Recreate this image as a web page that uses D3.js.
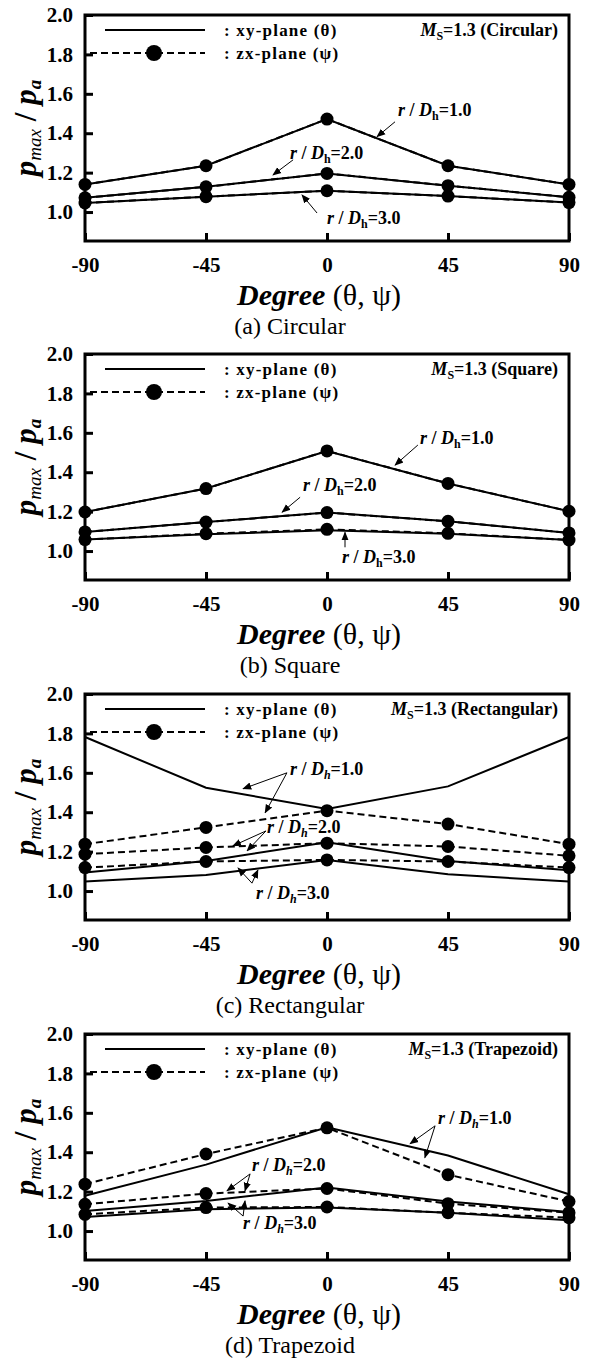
<!DOCTYPE html>
<html>
<head>
<meta charset="utf-8">
<script src="https://cdn.jsdelivr.net/npm/d3@7"></script>
<style>
  body { margin: 0; background: #fff; }
  text { font-family: "Liberation Serif", "Times New Roman", serif; fill: #000; }
</style>
</head>
<body>
<div id="chart"></div>
<script>
// x positions (degree) and axis ticks
const degrees = [-90, -45, 0, 45, 90];
const xTicks = [-90, -45, 0, 45, 90];
const yTicks = [1.0, 1.2, 1.4, 1.6, 1.8, 2.0];
const ratioLabels = ["1.0", "2.0", "3.0"];

// (a) circular: rows are r/Dh = 1.0, 2.0, 3.0
const circularXy = [
  [1.14, 1.235, 1.472, 1.235, 1.14],
  [1.072, 1.128, 1.196, 1.134, 1.075],
  [1.046, 1.078, 1.108, 1.081, 1.048]
];
const circularZx = [
  [1.14, 1.235, 1.472, 1.235, 1.14],
  [1.072, 1.128, 1.196, 1.134, 1.075],
  [1.046, 1.078, 1.108, 1.081, 1.048]
];

// (b) square
const squareXy = [
  [1.198, 1.317, 1.508, 1.343, 1.202],
  [1.097, 1.147, 1.195, 1.151, 1.092],
  [1.058, 1.085, 1.105, 1.088, 1.056]
];
const squareZx = [
  [1.198, 1.317, 1.508, 1.343, 1.202],
  [1.097, 1.147, 1.195, 1.151, 1.092],
  [1.058, 1.088, 1.11, 1.09, 1.056]
];

// (c) rectangular
const rectXy = [
  [1.782, 1.524, 1.417, 1.531, 1.782],
  [1.094, 1.153, 1.247, 1.153, 1.105],
  [1.048, 1.082, 1.158, 1.085, 1.048]
];
const rectZx = [
  [1.238, 1.323, 1.408, 1.34, 1.238],
  [1.187, 1.221, 1.243, 1.226, 1.179],
  [1.119, 1.15, 1.158, 1.15, 1.119]
];

// (d) trapezoid
const trapXy = [
  [1.179, 1.337, 1.527, 1.383, 1.187],
  [1.102, 1.153, 1.221, 1.15, 1.097],
  [1.071, 1.111, 1.119, 1.093, 1.055]
];
const trapZx = [
  [1.238, 1.391, 1.524, 1.286, 1.15],
  [1.136, 1.19, 1.216, 1.139, 1.093],
  [1.085, 1.119, 1.122, 1.093, 1.068]
];

const W = 589, H = 1358;
const left = 85, right = 569, ph = 226;

// annotation spots are in data units (degree, p/pa)
const panels = [
  { top: 15, caption: "(a) Circular", name: "Circular", xy: circularXy, zx: circularZx, ital: false,
    notes: [
      { r: 0, at: [26.4, 1.519], from: [25.3, 1.458], to: [[18.6, 1.382]] },
      { r: 1, at: [-13.8, 1.30], from: [-12.6, 1.265], to: [[-20.1, 1.188]] },
      { r: 2, at: [0, 0.97], from: [-3.7, 0.995], to: [[-9.3, 1.087]] }
    ] },
  { top: 354, caption: "(b) Square", name: "Square", xy: squareXy, zx: squareZx, ital: false,
    notes: [
      { r: 0, at: [34.6, 1.573], from: [33.8, 1.538], to: [[25.3, 1.436]] },
      { r: 1, at: [-8.9, 1.334], from: [-10, 1.273], to: [[-16.7, 1.197]] },
      { r: 2, at: [5.6, 0.968], from: [6.7, 1.019], to: [[6.7, 1.095]] }
    ] },
  { top: 694, caption: "(c) Rectangular", name: "Rectangular", xy: rectXy, zx: rectZx, ital: true,
    notes: [
      { r: 0, at: [-13.8, 1.621], from: [-14.9, 1.60], to: [[-31.2, 1.519], [-23.0, 1.397]] },
      { r: 1, at: [-22.3, 1.326], from: [-22.7, 1.305], to: [[-35, 1.229], [-29.7, 1.204]] },
      { r: 2, at: [-26.4, 0.99], from: [-27.9, 1.04], to: [[-33.1, 1.117], [-25.7, 1.107]] }
    ] },
  { top: 1034, caption: "(d) Trapezoid", name: "Trapezoid", xy: trapXy, zx: trapZx, ital: true,
    notes: [
      { r: 0, at: [41.3, 1.575], from: [40.2, 1.534], to: [[30.9, 1.443], [36.4, 1.372]] },
      { r: 1, at: [-27.9, 1.336], from: [-28.6, 1.29], to: [[-37.2, 1.204], [-30.5, 1.204]] },
      { r: 2, at: [-31.2, 1.04], from: [-31.2, 1.076], to: [[-36.8, 1.142], [-30.5, 1.153]] }
    ] }
];

const svg = d3.select("#chart").append("svg")
  .attr("width", W).attr("height", H);

svg.append("defs").append("marker")
  .attr("id", "arrow")
  .attr("viewBox", "0 0 10 10")
  .attr("refX", 9).attr("refY", 5)
  .attr("markerWidth", 9).attr("markerHeight", 9)
  .attr("markerUnits", "userSpaceOnUse")
  .attr("orient", "auto")
  .append("path").attr("d", "M0,1 L10,5 L0,9 Z").attr("fill", "#000");

const x = d3.scaleLinear().domain([-90, 90]).range([left, right]);

function drawPanel(p) {
  const top = p.top, bottom = p.top + ph;
  const y = d3.scaleLinear().domain([0.853, 2.0]).range([bottom, top]);
  const g = svg.append("g");

  const line = d3.line()
    .x((d, i) => x(degrees[i]))
    .y(d => y(d));

  // y axis, ticks pointing inward
  const ya = g.append("g")
    .attr("transform", `translate(${left},0)`)
    .call(d3.axisLeft(y).tickValues(yTicks).tickFormat(d3.format(".1f")).tickSize(-8).tickPadding(12));
  ya.select(".domain").remove();
  ya.selectAll("line").attr("stroke-width", 3);
  ya.selectAll("text").style("font-size", "21px").style("font-weight", "bold")
    .style("font-family", '"Liberation Serif", serif');

  const xa = g.append("g")
    .attr("transform", `translate(0,${bottom})`)
    .call(d3.axisBottom(x).tickValues(xTicks).tickFormat(d => String(d)).tickSize(-8).tickPadding(16));
  xa.select(".domain").remove();
  xa.selectAll("line").attr("stroke-width", 3);
  xa.selectAll("text").style("font-size", "21px").style("font-weight", "bold")
    .style("font-family", '"Liberation Serif", serif');

  // data lines
  p.zx.forEach(s => {
    g.append("path").datum(s)
      .attr("fill", "none").attr("stroke", "#000").attr("stroke-width", 2)
      .attr("stroke-dasharray", "7,4")
      .attr("d", line);
  });
  p.xy.forEach(s => {
    g.append("path").datum(s)
      .attr("fill", "none").attr("stroke", "#000").attr("stroke-width", 2)
      .attr("d", line);
  });
  p.zx.forEach(s => {
    g.selectAll(null).data(s).enter().append("circle")
      .attr("cx", (d, i) => x(degrees[i]))
      .attr("cy", d => y(d))
      .attr("r", 6.5)
      .attr("fill", "#000");
  });

  // frame
  g.append("rect")
    .attr("x", left).attr("y", top)
    .attr("width", right - left).attr("height", ph)
    .attr("fill", "none").attr("stroke", "#000").attr("stroke-width", 3);

  // legend
  const ly1 = top + 15, ly2 = top + 38;
  g.append("line").attr("x1", 105).attr("x2", 205).attr("y1", ly1).attr("y2", ly1)
    .attr("stroke", "#000").attr("stroke-width", 2);
  g.append("line").attr("x1", 90).attr("x2", 205).attr("y1", ly2).attr("y2", ly2)
    .attr("stroke", "#000").attr("stroke-width", 2).attr("stroke-dasharray", "7,4");
  g.append("circle").attr("cx", 154).attr("cy", ly2).attr("r", 8).attr("fill", "#000");

  const legText = [[": xy-plane (θ)", ly1], [": zx-plane (ψ)", ly2]];
  legText.forEach(([t, yy]) => {
    g.append("text").attr("x", 224).attr("y", yy + 6)
      .style("font-size", "17px").style("font-weight", "bold").style("letter-spacing", "1.2px")
      .text(t);
  });

  const ms = g.append("text").attr("x", 558).attr("y", top + 21)
    .attr("text-anchor", "end")
    .style("font-size", "18px").style("font-weight", "bold");
  ms.append("tspan").style("font-style", "italic").text("M");
  ms.append("tspan").attr("dy", 4).style("font-size", "12px").text("S");
  ms.append("tspan").attr("dy", -4).text(`=1.3 (${p.name})`);

  // r/Dh annotations
  p.notes.forEach(n => {
    const t = g.append("text")
      .attr("x", x(n.at[0])).attr("y", y(n.at[1]) + 6)
      .style("font-size", "18px").style("font-weight", "bold");
    t.append("tspan").style("font-style", "italic").text("r");
    t.append("tspan").text(" / ");
    t.append("tspan").style("font-style", "italic").text("D");
    t.append("tspan").attr("dy", 4).style("font-size", "12px")
      .style("font-style", p.ital ? "italic" : "normal").text("h");
    t.append("tspan").attr("dy", -4).text("=" + ratioLabels[n.r]);
    n.to.forEach(tt => {
      g.append("line")
        .attr("x1", x(n.from[0])).attr("y1", y(n.from[1]))
        .attr("x2", x(tt[0])).attr("y2", y(tt[1]))
        .attr("stroke", "#000").attr("stroke-width", 1)
        .attr("marker-end", "url(#arrow)");
    });
  });

  // y axis title
  const yl = g.append("text")
    .attr("transform", `translate(36,${(top + bottom) / 2}) rotate(-90)`)
    .attr("text-anchor", "middle")
    .style("font-size", "31px").style("font-weight", "bold").style("font-style", "italic");
  yl.append("tspan").text("p");
  yl.append("tspan").attr("dy", 5).style("font-size", "19px").style("font-weight", "normal").text("max");
  yl.append("tspan").attr("dy", -5).style("font-style", "normal").text(" / ");
  yl.append("tspan").text("p");
  yl.append("tspan").attr("dy", 5).style("font-size", "19px").text("a");

  // x axis title
  const xl = g.append("text")
    .attr("x", 319).attr("y", bottom + 64)
    .attr("text-anchor", "middle")
    .style("font-size", "30px");
  xl.append("tspan").style("font-weight", "bold").style("font-style", "italic").text("Degree");
  xl.append("tspan").text(" (θ, ψ)");

  g.append("text")
    .attr("x", 290).attr("y", bottom + 93)
    .attr("text-anchor", "middle")
    .style("font-size", "24px")
    .text(p.caption);
}

panels.forEach(drawPanel);
</script>
</body>
</html>
